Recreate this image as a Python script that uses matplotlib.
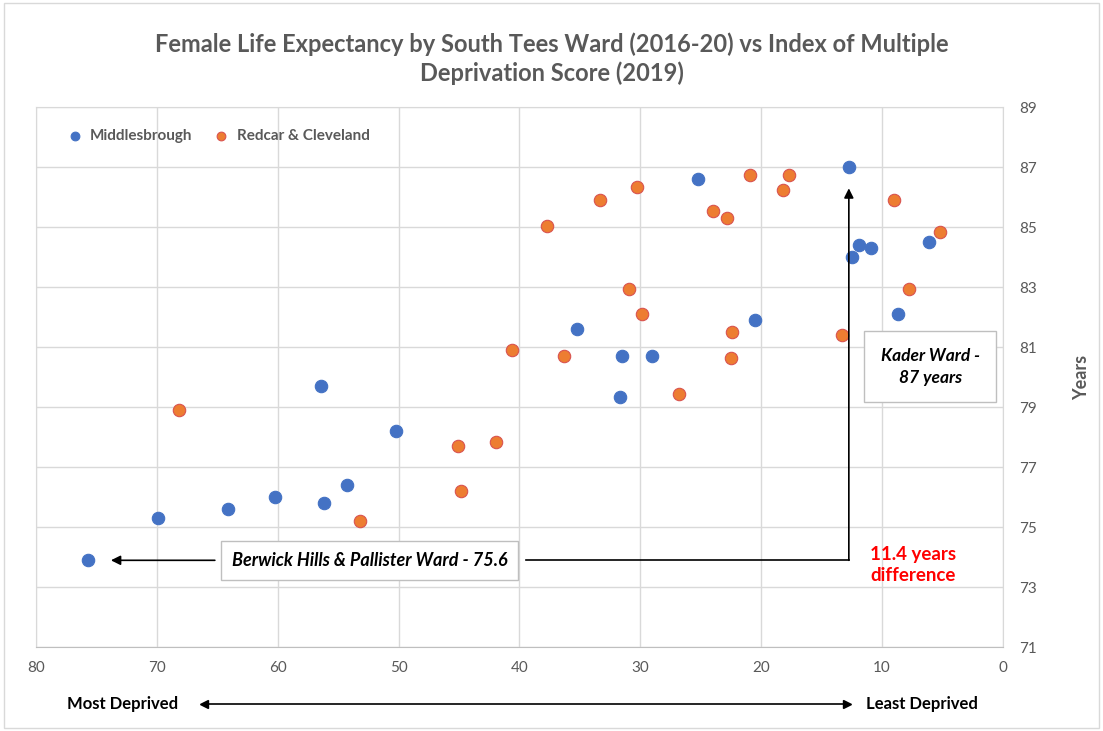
import numpy as np
import matplotlib.pyplot as plt
from matplotlib.patches import Rectangle

plt.rcParams['font.family'] = ['Lato', 'DejaVu Sans']

# IMD score (x) and female life expectancy (y)
mbro_imd = [75.7, 69.9, 64.1, 60.2, 56.2, 54.3, 50.2, 56.4, 25.2, 12.7, 11.9, 10.9,
            12.5, 6.1, 8.7, 20.5, 35.2, 31.5, 29.0, 31.7]
mbro_le = [73.9, 75.3, 75.6, 76.0, 75.8, 76.4, 78.2, 79.7, 86.6, 87.0, 84.4, 84.3,
           84.0, 84.5, 82.1, 81.9, 81.6, 80.7, 80.7, 79.35]

redcar_imd = [68.2, 45.1, 41.9, 44.8, 53.2, 40.6, 36.3, 37.7, 33.3, 30.3, 30.9, 29.9,
              24.0, 22.8, 20.9, 17.7, 18.2, 22.4, 22.5, 26.8, 13.3, 9.0, 5.2, 7.75]
redcar_le = [78.9, 77.7, 77.85, 76.2, 75.2, 80.9, 80.7, 85.05, 85.9, 86.35, 82.95, 82.1,
             85.55, 85.3, 86.75, 86.75, 86.25, 81.5, 80.65, 79.45, 81.4, 85.9, 84.85, 82.95]

x_ticks = [80, 70, 60, 50, 40, 30, 20, 10, 0]
y_ticks = [71, 73, 75, 77, 79, 81, 83, 85, 87, 89]

grey = '#595959'
grid_col = '#d9d9d9'

fig = plt.figure(figsize=(11.03, 7.31), dpi=100)
fig.patches.append(Rectangle((0.004, 0.004), 0.992, 0.992, transform=fig.transFigure,
                             fill=False, edgecolor='#d9d9d9', linewidth=1))
ax = fig.add_axes([0.0326, 0.1145, 0.8767, 0.7387])

ax.scatter(mbro_imd, mbro_le, s=80, color='#4472C4', edgecolor='#4472C4',
           linewidth=0.8, zorder=3, label='Middlesbrough')
ax.scatter(redcar_imd, redcar_le, s=80, color='#ED7D31', edgecolor='#D9534F',
           linewidth=0.8, zorder=3, label='Redcar & Cleveland')

ax.set_xlim(80, 0)
ax.set_ylim(71, 89)
ax.set_xticks(x_ticks)
ax.set_yticks(y_ticks)
ax.yaxis.tick_right()
ax.yaxis.set_label_position('right')
ax.tick_params(axis='both', length=0, colors=grey, labelsize=11)
ax.tick_params(axis='x', pad=10)
ax.tick_params(axis='y', pad=12)
ax.set_ylabel('Years', color=grey, fontsize=13, fontweight='bold', labelpad=26)
ax.grid(True, color=grid_col, linewidth=1)
ax.set_axisbelow(True)
for s in ax.spines.values():
    s.set_color(grid_col)
ax.spines['bottom'].set_color('#bfbfbf')

ax.legend(loc='upper left', ncol=2, frameon=False, labelcolor=grey,
          handletextpad=0.0, columnspacing=0.9, markerscale=0.7,
          bbox_to_anchor=(0.01, 0.985), prop={'weight': 'bold', 'size': 11})

fig.text(0.5, 0.92, 'Female Life Expectancy by South Tees Ward (2016-20) vs Index of Multiple\n'
         'Deprivation Score (2019)', ha='center', va='center', fontsize=17,
         fontweight='bold', color=grey, linespacing=1.25)

# annotations
box = dict(boxstyle='square,pad=0.6', facecolor='white', edgecolor='#bfbfbf', linewidth=1)
ax.text(52.4, 73.9, 'Berwick Hills & Pallister Ward - 75.6', ha='center', va='center',
        fontsize=13, fontstyle='italic', fontweight='bold', color='black', bbox=box, zorder=5)
ax.text(6.0, 80.35, 'Kader Ward -\n87 years', ha='center', va='center', fontsize=12.5,
        fontstyle='italic', fontweight='bold', color='black', linespacing=1.45,
        bbox=dict(boxstyle='square,pad=0.95', facecolor='white', edgecolor='#bfbfbf',
                  linewidth=1), zorder=5)
ax.annotate('', xy=(73.8, 73.9), xytext=(65.2, 73.9),
            arrowprops=dict(arrowstyle='-|>', color='black', lw=1.2, mutation_scale=14,
                            shrinkA=0, shrinkB=0))
ax.plot([39.5, 12.75], [73.9, 73.9], color='black', lw=1.2, zorder=4)
ax.annotate('', xy=(12.75, 86.3), xytext=(12.75, 73.9),
            arrowprops=dict(arrowstyle='-|>', color='black', lw=1.2, mutation_scale=14,
                            shrinkA=0, shrinkB=0))
ax.text(11.0, 73.75, '11.4 years\ndifference', ha='left', va='center', fontsize=13.5,
        fontweight='bold', color='#FF0000', linespacing=1.3)

# bottom deprivation arrow
fig.text(0.061, 0.037, 'Most Deprived', ha='left', va='center', fontsize=12,
         fontweight='bold', color='black')
fig.text(0.785, 0.037, 'Least Deprived', ha='left', va='center', fontsize=12,
         fontweight='bold', color='black')
fig.add_artist(plt.Line2D([0.185, 0.768], [0.037, 0.037], color='black', lw=1.2,
                          transform=fig.transFigure))
fig.add_artist(plt.Line2D([0.185], [0.037], marker='<', markersize=6, color='black',
                          transform=fig.transFigure))
fig.add_artist(plt.Line2D([0.768], [0.037], marker='>', markersize=6, color='black',
                          transform=fig.transFigure))

fig.savefig('out.png', dpi=100)
